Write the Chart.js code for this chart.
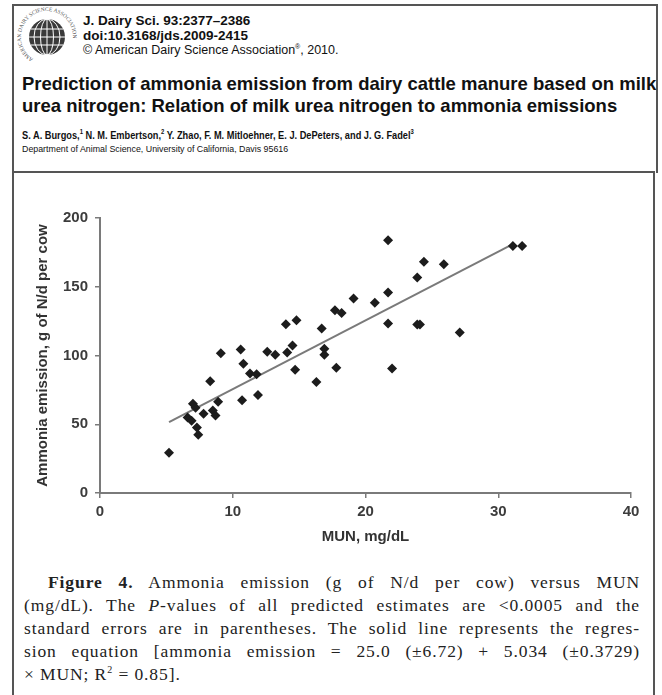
<!DOCTYPE html>
<html>
<head>
<meta charset="utf-8">
<script src="https://cdn.jsdelivr.net/npm/chart.js@4"></script>
<style>
  body { margin: 0; background: #fff; width: 662px; height: 695px; overflow: hidden; position: relative;
         font-family: "Liberation Sans", Arial, sans-serif; color: #111; }
  .abs { position: absolute; white-space: nowrap; transform-origin: 0 0; }
  #head { position: absolute; left: 12px; top: 4px; width: 642px; height: 167px; border: 2px solid #555; border-bottom: none; }
  #box { position: absolute; left: 12px; top: 171px; width: 639px; height: 540px; border: 2px solid #555; }
  .j { left: 83px; font-size: 13.5px; font-weight: bold; }
  #title { left: 22px; top: 73px; font-size: 18.5px; font-weight: bold; line-height: 22px; }
  #authors { left: 22px; top: 128px; font-size: 11px; font-weight: bold; transform: scaleX(0.84); }
  #authors sup, .j sup { font-size: 7px; }
  #dept { left: 22px; top: 143px; font-size: 9.5px; transform: scaleX(0.93); }
  #wrap { position: absolute; left: 14px; top: 180px; width: 640px; height: 370px; }
  #cap { position: absolute; left: 24px; top: 571px; width: 616px; font-family: "Liberation Serif", serif; font-size: 17.5px; letter-spacing: 0.9px; line-height: 23px; color: #222; }
  #cap div { text-align: justify; text-align-last: justify; white-space: nowrap; }
  #cap sup { font-size: 10px; line-height: 0; }
</style>
</head>
<body>
<div id="head"></div>
<div id="box"></div>

<svg class="abs" style="left:15px;top:5px" width="64" height="64" viewBox="0 0 64 64">
  <defs><path id="ring" d="M20,55 A26,26 0 1,1 44,55"/></defs>
  <text font-size="5.5" font-family="Liberation Serif" fill="#555"><textPath href="#ring" startOffset="2">AMERICAN DAIRY SCIENCE ASSOCIATION</textPath></text>
  <circle cx="32" cy="32" r="18" fill="#3a3a3a"/>
  <g stroke="#fff" stroke-width="1" fill="none">
    <ellipse cx="32" cy="32" rx="6.5" ry="18"/>
    <ellipse cx="32" cy="32" rx="13" ry="18"/>
    <line x1="32" y1="14" x2="32" y2="50"/>
    <line x1="14" y1="32" x2="50" y2="32"/>
    <line x1="16" y1="24" x2="48" y2="24"/>
    <line x1="16" y1="40" x2="48" y2="40"/>
  </g>
</svg>

<div class="abs j" style="top:13px">J. Dairy Sci. 93:2377–2386</div>
<div class="abs j" style="top:28px">doi:10.3168/jds.2009-2415</div>
<div class="abs j" style="top:43px;font-weight:normal;font-size:12.5px">© American Dairy Science Association<sup>®</sup>, 2010.</div>
<div class="abs" id="title">Prediction of ammonia emission from dairy cattle manure based on milk<br>urea nitrogen: Relation of milk urea nitrogen to ammonia emissions</div>
<div class="abs" id="authors">S. A. Burgos,<sup>1</sup> N. M. Embertson,<sup>2</sup> Y. Zhao, F. M. Mitloehner, E. J. DePeters, and J. G. Fadel<sup>3</sup></div>
<div class="abs" id="dept">Department of Animal Science, University of California, Davis 95616</div>

<div id="wrap"><canvas id="c"></canvas></div>

<div id="cap">
  <div style="padding-left:24px"><b>Figure 4.</b> Ammonia emission (g of N/d per cow) versus MUN</div>
  <div>(mg/dL). The <i>P</i>-values of all predicted estimates are &lt;0.0005 and the</div>
  <div>standard errors are in parentheses. The solid line represents the regres-</div>
  <div>sion equation [ammonia emission = 25.0 (±6.72) + 5.034 (±0.3729)</div>
  <div style="text-align-last:left">× MUN; R<sup>2</sup> = 0.85].</div>
</div>

<script>
// MUN (mg/dL) and ammonia emission (g of N/d per cow)
const munX = [5.2, 6.6, 6.9, 7.0, 7.2, 7.3, 7.4, 7.8, 8.3, 8.5, 8.7, 8.9, 9.1,
  10.6, 10.8, 10.7, 11.3, 11.8, 11.9, 12.6, 13.2, 14.1, 14.5, 14.7, 14.0, 14.8,
  16.3, 16.7, 16.9, 16.9, 17.7, 17.8, 18.2, 19.1, 20.7, 21.7, 21.7, 21.7, 22.0,
  23.9, 23.9, 24.1, 24.4, 25.9, 27.1, 31.1, 31.8];
const nh3Y = [29.3, 55.0, 52.5, 65.0, 62.0, 47.7, 42.3, 57.6, 81.3, 60.0, 56.4, 66.4, 101.6,
  104.4, 94.0, 67.4, 87.0, 86.4, 71.2, 102.7, 100.6, 102.1, 107.3, 89.6, 122.7, 125.7,
  80.7, 119.7, 105.0, 100.6, 133.0, 91.1, 131.0, 141.5, 138.3, 183.9, 145.9, 123.3, 90.6,
  156.7, 122.6, 122.6, 168.1, 166.4, 116.8, 179.7, 179.7];
// regression line end points as drawn
const fitX = [5.2, 31.1];
const fitY = [51.6, 181.0];
const xTicks = [0, 10, 20, 30, 40];
const yTicks = [0, 50, 100, 150, 200];

const tickFont = { family: 'Liberation Sans', size: 15, weight: 'bold' };
const axisGrey = '#7a7a7a';

new Chart(document.getElementById('c'), {
  type: 'scatter',
  data: {
    datasets: [{
      data: munX.map((x, i) => ({ x: x, y: nh3Y[i] })),
      pointStyle: 'rectRot',
      pointRadius: 5,
      backgroundColor: '#1c1c1c',
      borderWidth: 0,
      order: 1
    }, {
      type: 'line',
      data: fitX.map((x, i) => ({ x: x, y: fitY[i] })),
      borderColor: '#7a7a7a',
      borderWidth: 2,
      pointRadius: 0,
      order: 2
    }]
  },
  options: {
    responsive: true,
    maintainAspectRatio: false,
    animation: false,
    layout: { padding: { top: 38, right: 23, left: 0, bottom: 0 } },
    plugins: { legend: { display: false }, tooltip: { enabled: false } },
    scales: {
      x: {
        type: 'linear', min: 0, max: 40,
        afterBuildTicks: s => { s.ticks = xTicks.map(v => ({ value: v })); },
        afterFit: s => { s.height = 57; },
        border: { color: axisGrey, width: 2 },
        grid: { drawOnChartArea: false, color: axisGrey, tickLength: 5, lineWidth: 1.5 },
        ticks: { font: tickFont, color: '#3c3c3c', padding: 5 },
        title: { display: true, text: 'MUN, mg/dL', font: tickFont, color: '#333', padding: { top: 0, bottom: 4 } }
      },
      y: {
        min: 0, max: 200,
        afterBuildTicks: s => { s.ticks = yTicks.map(v => ({ value: v })); },
        afterFit: s => { s.width = 86; },
        border: { color: axisGrey, width: 2 },
        grid: { drawOnChartArea: false, color: axisGrey, tickLength: 5, lineWidth: 1.5 },
        ticks: { font: tickFont, color: '#3c3c3c', padding: 7 },
        title: { display: true, text: 'Ammonia emission, g of N/d per cow', font: tickFont, color: '#333', padding: { top: 20, bottom: 0 } }
      }
    }
  }
});
</script>
</body>
</html>
